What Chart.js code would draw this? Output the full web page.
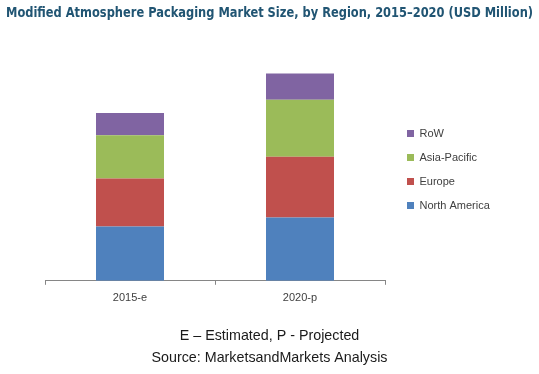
<!DOCTYPE html>
<html>
<head>
<meta charset="utf-8">
<script src="https://cdn.jsdelivr.net/npm/chart.js@4/dist/chart.umd.min.js"></script>
<style>
  html, body { margin: 0; padding: 0; background: #fff; }
  #wrap { width: 539px; height: 374px; }
</style>
</head>
<body>
<div id="wrap"><canvas id="mapChart"></canvas></div>
<script>
// data (USD Million)
const years = ['2015-e', '2020-p'];
const northAmerica = [3240, 3780];
const europe = [2860, 3620];
const asiaPacific = [2580, 3400];
const row = [1320, 1560];

// legend sits in a fixed-width column at the right
const legendWidth = {
  id: 'legendWidth',
  beforeLayout(chart) {
    const lg = chart.legend;
    if (lg && !lg._fixed) {
      const fit = lg.fit;
      lg.fit = function () {
        fit.call(this);
        this.width = 139;
      };
      lg._fixed = true;
    }
  }
};

const ctx = document.getElementById('mapChart').getContext('2d');

new Chart(ctx, {
  type: 'bar',
  data: {
    labels: years,
    datasets: [
      { label: 'North America', data: northAmerica, backgroundColor: '#4F81BD' },
      { label: 'Europe', data: europe, backgroundColor: '#C0504D' },
      { label: 'Asia-Pacific', data: asiaPacific, backgroundColor: '#9BBB59' },
      { label: 'RoW', data: row, backgroundColor: '#8064A2' }
    ]
  },
  plugins: [legendWidth],
  options: {
    responsive: true,
    maintainAspectRatio: false,
    animation: false,
    layout: {
      padding: { left: 6, right: 6, top: 0, bottom: 0 }
    },
    datasets: {
      bar: { barPercentage: 0.4, categoryPercentage: 1 }
    },
    plugins: {
      title: {
        display: true,
        align: 'start',
        text: 'Modified Atmosphere Packaging Market Size, by Region, 2015\u20132020 (USD Million)',
        color: '#215573',
        font: { family: 'DejaVu Sans Condensed', size: 13.6, weight: 'bold', lineHeight: '19px' },
        padding: { top: 4, bottom: 23 }
      },
      subtitle: {
        display: true,
        position: 'bottom',
        text: ['E \u2013 Estimated, P - Projected', 'Source: MarketsandMarkets Analysis'],
        color: '#1a1a1a',
        font: { family: 'Liberation Sans', size: 14.3, lineHeight: '22px' },
        padding: { top: 13, bottom: 5 }
      },
      legend: {
        position: 'right',
        align: 'start',
        reverse: true,
        title: {
          display: true,
          text: ' ',
          font: { size: 10, lineHeight: '10px' },
          padding: { top: 0, bottom: 105 }
        },
        labels: {
          boxWidth: 7,
          boxHeight: 7,
          padding: 13,
          color: '#404040',
          font: { family: 'Liberation Sans', size: 11 }
        }
      },
      tooltip: { enabled: false }
    },
    scales: {
      x: {
        stacked: true,
        border: { display: true, color: '#868686' },
        grid: { display: true, drawOnChartArea: false, tickLength: 4, color: '#868686' },
        ticks: { color: '#404040', padding: 7, font: { family: 'Liberation Sans', size: 11 } }
      },
      y: {
        stacked: true,
        display: true,
        min: 0,
        max: 14000,
        grid: { display: false },
        border: { display: false },
        ticks: { display: false },
        afterFit: (scale) => { scale.width = 39; }
      },
      y2: {
        position: 'right',
        display: true,
        grid: { display: false },
        border: { display: false },
        ticks: { display: false },
        afterFit: (scale) => { scale.width = 9; }
      }
    }
  }
});
</script>
</body>
</html>
